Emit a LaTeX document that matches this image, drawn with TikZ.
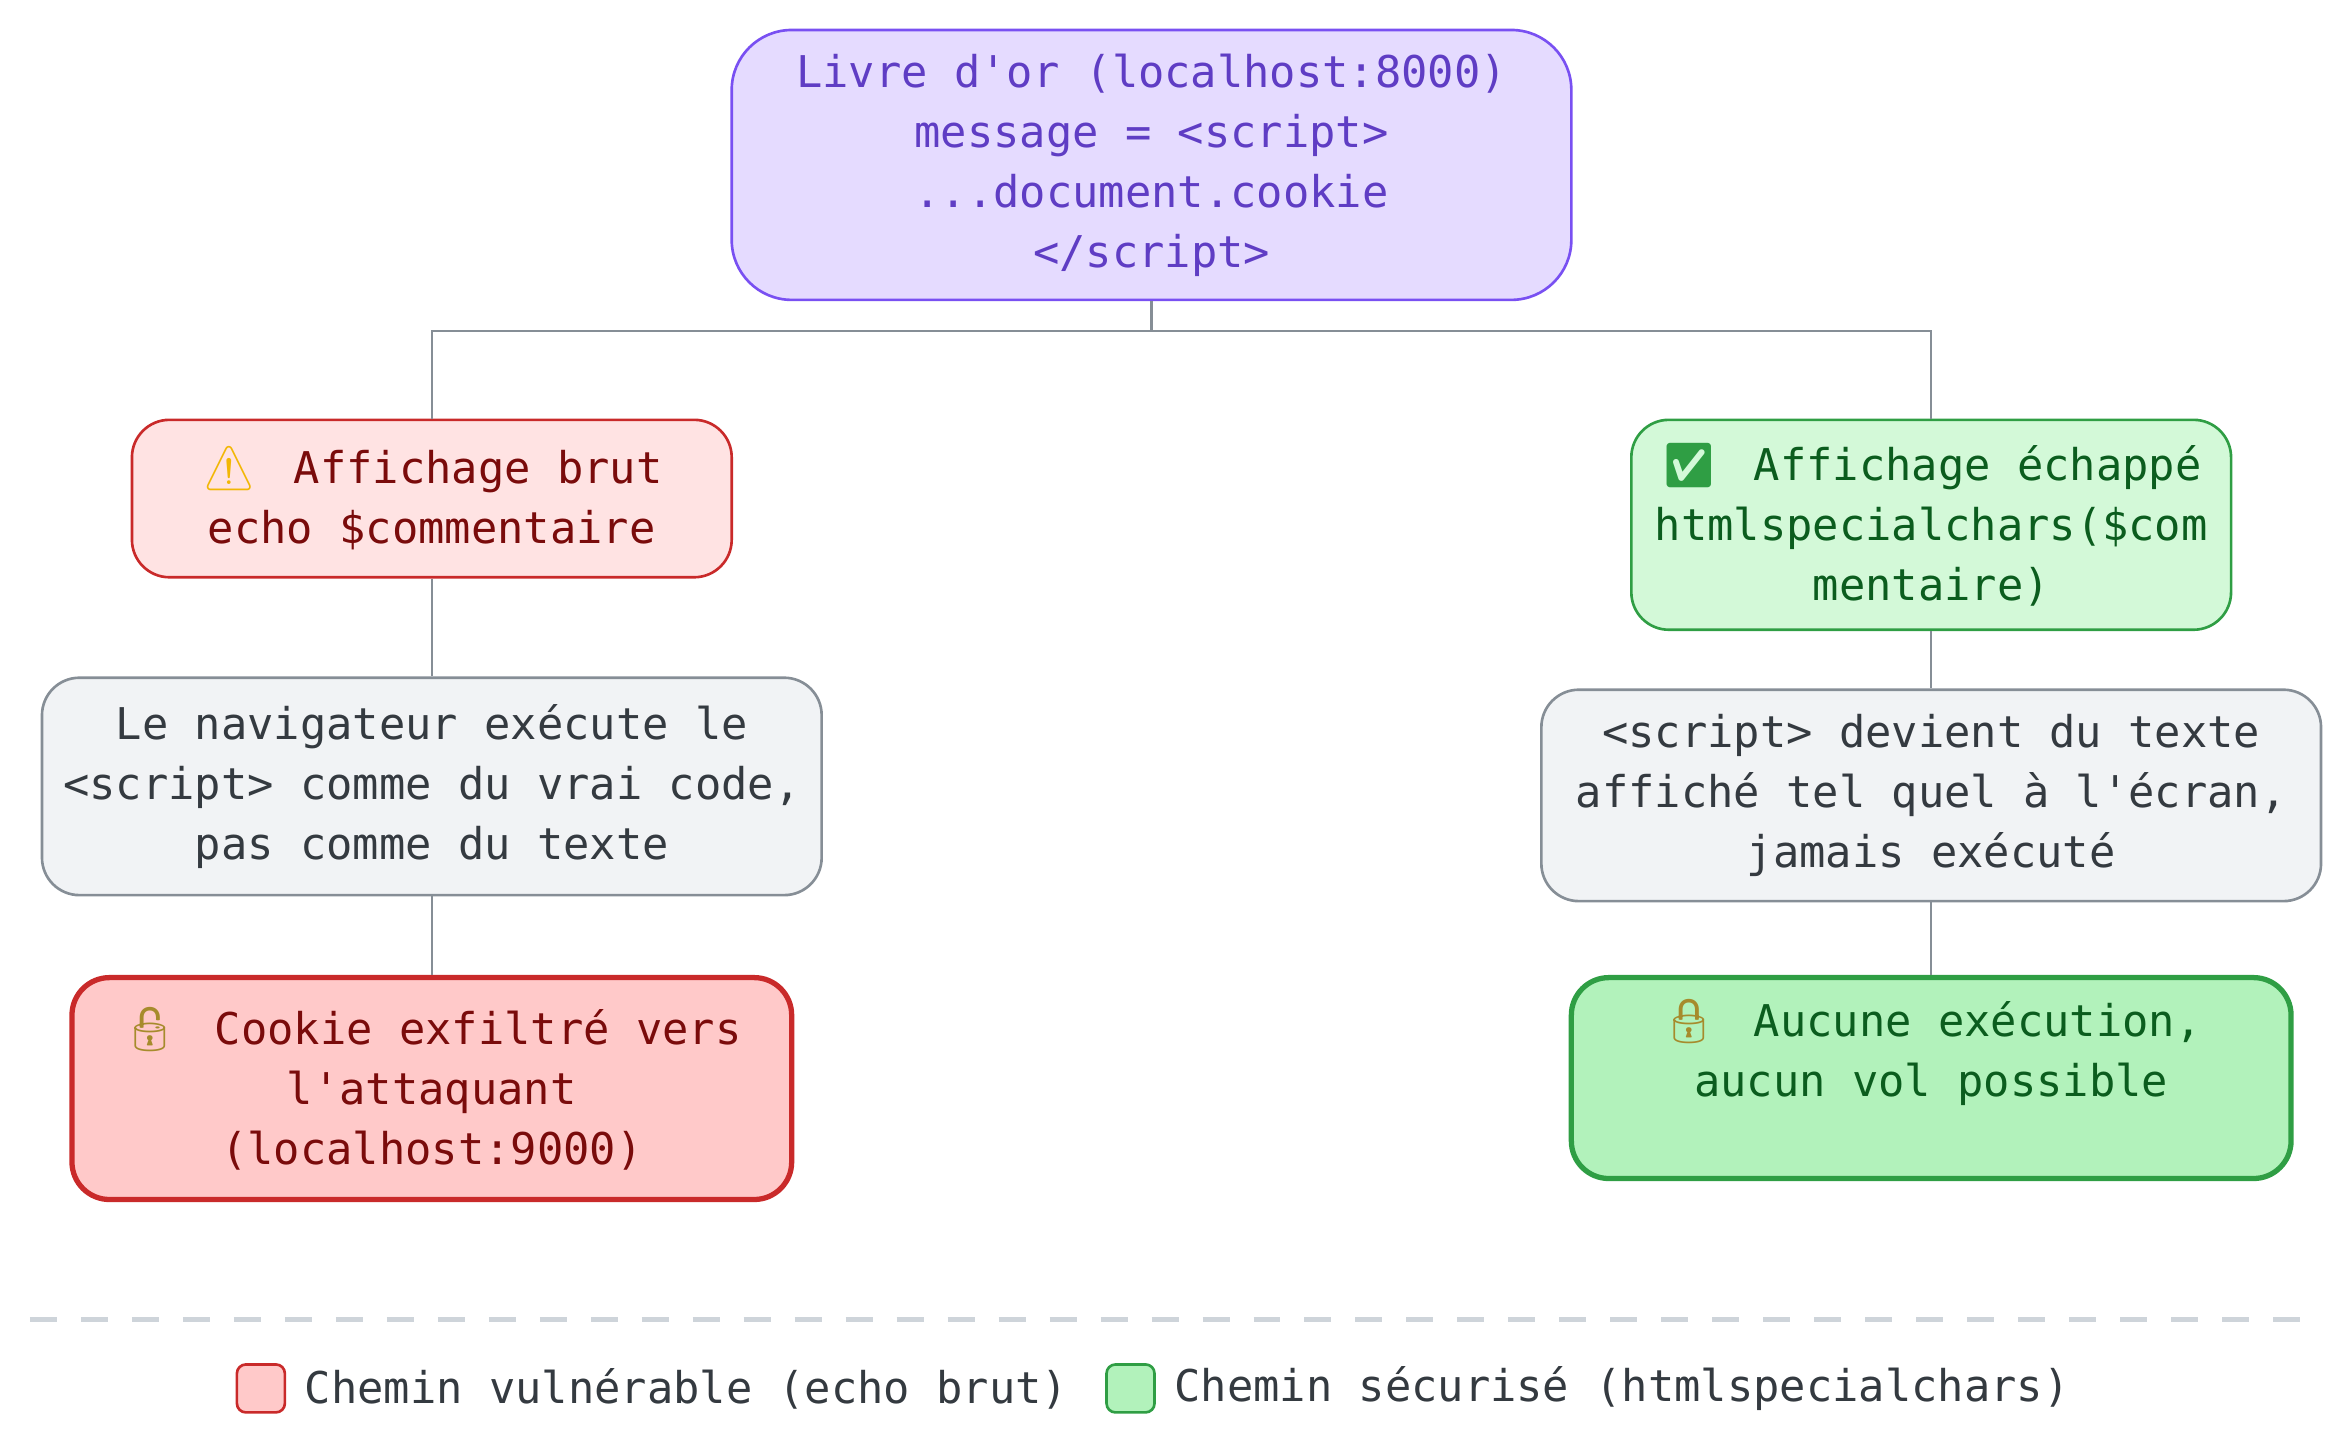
\documentclass[tikz,border=0pt]{standalone}
\usepackage{fontspec}
\newfontfamily\codefont{DejaVu Sans Mono}
\newfontfamily\emojifont{Noto Emoji}
\usetikzlibrary{positioning}

\definecolor{violetfill}{HTML}{E5DBFF}
\definecolor{violetline}{HTML}{7950F2}
\definecolor{violettext}{HTML}{5F3DC4}
\definecolor{rougefill}{HTML}{FFE3E3}
\definecolor{rougefort}{HTML}{FFC9C9}
\definecolor{rougeline}{HTML}{C92A2A}
\definecolor{rougetext}{HTML}{7A0B0B}
\definecolor{vertfill}{HTML}{D3F9D8}
\definecolor{vertfort}{HTML}{B2F2BB}
\definecolor{vertline}{HTML}{2F9E44}
\definecolor{verttext}{HTML}{0B5D1E}
\definecolor{grisfill}{HTML}{F1F3F5}
\definecolor{grisline}{HTML}{868E96}
\definecolor{gristext}{HTML}{343A40}
\definecolor{tirets}{HTML}{CED4DA}
\definecolor{jaune}{HTML}{F2B705}
\definecolor{cadenas}{HTML}{A68B2C}

\newcommand{\emo}[2]{\textcolor{#1}{\emojifont #2}\hspace{0.85em}}

\begin{document}
\begin{tikzpicture}[
        box/.style={draw, rounded corners=0.5cm, align=center, line width=1pt,
            font=\codefont\fontsize{16.6}{22.8}\selectfont},
        source/.style={box, rounded corners=0.8cm, fill=violetfill, draw=violetline,
            text=violettext, minimum width=11.2cm, minimum height=3.6cm},
        danger/.style={box, fill=rougefill, draw=rougeline, text=rougetext},
        safe/.style={box, fill=vertfill, draw=vertline, text=verttext},
        neutre/.style={box, fill=grisfill, draw=grisline, text=gristext,
            minimum width=10.4cm},
        final/.style={line width=2pt, minimum width=9.6cm},
        link/.style={draw=grisline, line width=0.85pt},
        legende/.style={font=\codefont\fontsize{16.6}{22.8}\selectfont, text=gristext,
            inner sep=0pt, anchor=west}
    ]
        \useasboundingbox (0,0) rectangle (31.36,-19.34);

        % Point de depart
        \node[source] (livre) at (15.36,-2.2)
            {Livre d'or (localhost:8000)\\message = <script>\\...document.cookie\\</script>};

        % Chemin vulnerable
        \node[danger, minimum width=8cm, minimum height=2.1cm] (brut) at (5.76,-6.65)
            {\emo{jaune}{⚠}Affichage brut\\echo \$commentaire};
        \node[neutre, minimum height=2.9cm] (navig) at (5.76,-10.49)
            {Le navigateur exécute le\\<script> comme du vrai code,\\pas comme du texte};
        \node[danger, final, fill=rougefort, minimum height=2.96cm] (vol) at (5.76,-14.52)
            {\emo{cadenas}{🔓}Cookie exfiltré vers\\l'attaquant\\(localhost:9000)};

        % Chemin securise
        \node[safe, minimum width=8cm, minimum height=2.8cm] (echap) at (25.76,-7.0)
            {\emo{vertline}{✅}Affichage échappé\\htmlspecialchars(\$com\\mentaire)};
        \node[neutre, minimum height=2.82cm] (texte) at (25.76,-10.61)
            {<script> devient du texte\\affiché tel quel à l'écran,\\jamais exécuté};
        \node[safe, final, fill=vertfort, minimum height=2.68cm] (aucun) at (25.76,-14.38)
            {\emo{cadenas}{🔒}Aucune exécution,\\aucun vol possible\\\mbox{}};

        % Liens
        \draw[link] (livre.south) -- ++(0,-0.4) -| (brut.north);
        \draw[link] (livre.south) -- ++(0,-0.4) -| (echap.north);
        \draw[link] (brut) -- (navig);
        \draw[link] (navig) -- (vol);
        \draw[link] (echap) -- (texte);
        \draw[link] (texte) -- (aucun);

        % Legende
        \draw[tirets, line width=1.7pt, dash pattern=on 0.36cm off 0.32cm] (0.4,-17.6) -- (30.7,-17.6);
        \node[draw=rougeline, fill=rougefort, line width=1pt, rounded corners=0.12cm,
            minimum size=0.64cm, inner sep=0pt] (legrouge) at (3.48,-18.52) {};
        \node[legende, right=0.24cm of legrouge] (txtrouge) {Chemin vulnérable (echo brut)};
        \node[draw=vertline, fill=vertfort, line width=1pt, rounded corners=0.12cm,
            minimum size=0.64cm, inner sep=0pt] (legvert) at (15.08,-18.52) {};
        \node[legende, right=0.24cm of legvert] (txtvert) {Chemin sécurisé (htmlspecialchars)};
    \end{tikzpicture}
\end{document}
